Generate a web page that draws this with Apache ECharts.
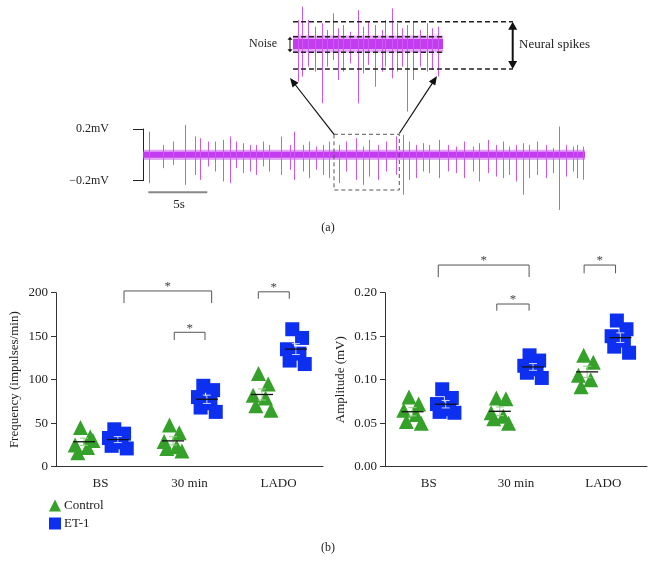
<!DOCTYPE html>
<html><head><meta charset="utf-8">
<script src="https://cdn.jsdelivr.net/npm/echarts@6/dist/echarts.min.js"></script>
<style>html,body{margin:0;padding:0;background:#fff}#c{width:656px;height:574px}</style>
</head><body><div id="c"></div>
<script>
// ---------------- data ----------------
const categories = ['BS', '30 min', 'LADO'];
const groupNames = ['Control', 'ET-1'];
// Frequency (impulses/min), one inner list per category
const freqControl = [[45, 34, 25, 22, 16, 30], [48, 39, 29, 23, 21, 18], [107, 95, 82, 79, 70, 65]];
const freqET1 = [[43, 38, 33, 28, 24, 21], [93, 88, 80, 73, 68, 63], [158, 148, 135, 130, 122, 118]];
// Amplitude (mV)
const ampControl = [[0.080, 0.072, 0.065, 0.060, 0.052, 0.050], [0.079, 0.078, 0.062, 0.058, 0.055, 0.050], [0.128, 0.120, 0.105, 0.100, 0.092]];
const ampET1 = [[0.089, 0.079, 0.072, 0.066, 0.063, 0.062], [0.128, 0.122, 0.116, 0.112, 0.108, 0.102], [0.168, 0.158, 0.150, 0.145, 0.138, 0.131]];
const freqTicks = [0, 50, 100, 150, 200];
const ampTicks = [0, 0.05, 0.10, 0.15, 0.20];
const traceScaleLabels = ['−0.2mV', '0.2mV'];
const traceScaleValues = [-0.2, 0.2];
// recording: [time s, spike max mV, spike min mV]
const traceSpikes = [
  [0.51, 0.18, -0.22], [1.69, 0.077, -0.103], [2.54, 0.103, -0.077], [3.53, 0.232, -0.232], [4.38, 0.142, -0.155],
  [4.80, 0.129, -0.193], [5.51, 0.103, -0.09], [6.07, 0.103, -0.129], [6.78, 0.116, -0.206], [7.34, 0.142, -0.219],
  [7.91, 0.103, -0.103], [8.47, 0.09, -0.142], [9.04, 0.077, -0.129], [9.60, 0.077, -0.155], [10.17, 0.103, -0.09],
  [10.73, 0.077, -0.129], [11.72, 0.142, -0.155], [12.43, 0.077, -0.116], [12.85, 0.18, -0.193], [13.56, 0.077, -0.129],
  [14.12, 0.103, -0.18], [14.69, 0.064, -0.116], [15.25, 0.077, -0.155], [15.82, 0.103, -0.18], [16.67, 0.077, -0.219],
  [17.23, 0.103, -0.129], [18.08, 0.129, -0.193], [18.64, 0.064, -0.232], [19.21, 0.116, -0.168], [19.92, 0.077, -0.193],
  [20.62, 0.103, -0.129], [21.47, 0.142, -0.155], [22.03, 0.155, -0.309], [22.60, 0.103, -0.193], [23.16, 0.077, -0.18],
  [23.73, 0.09, -0.129], [24.29, 0.077, -0.142], [25.14, 0.116, -0.18], [25.85, 0.077, -0.129], [26.55, 0.064, -0.142],
  [27.26, 0.103, -0.18], [27.97, 0.064, -0.129], [28.53, 0.09, -0.206], [29.24, 0.116, -0.142], [29.94, 0.077, -0.168],
  [30.51, 0.103, -0.18], [31.07, 0.064, -0.155], [31.64, 0.077, -0.206], [32.20, 0.09, -0.309], [32.77, 0.077, -0.18],
  [33.47, 0.103, -0.155], [34.18, 0.077, -0.18], [34.75, 0.052, -0.142], [35.31, 0.219, -0.426], [35.88, 0.077, -0.168],
  [36.44, 0.064, -0.129], [36.86, 0.077, -0.18], [37.29, 0.064, -0.193]
];
// enlarged window: [time s, spike max mV, spike min mV]
const insetSpikes = [
  [16.36, 0.111, -0.174], [16.48, 0.173, -0.151], [16.73, 0.111, -0.105], [16.97, 0.08, -0.128], [17.22, 0.096, -0.275],
  [17.40, 0.065, -0.105], [17.65, 0.142, -0.074], [17.83, 0.073, -0.167], [18.02, 0.088, -0.128], [18.27, 0.057, -0.09],
  [18.57, 0.157, -0.275], [18.76, 0.08, -0.136], [18.94, 0.103, -0.097], [19.19, 0.088, -0.198], [19.43, 0.065, -0.128],
  [19.56, 0.111, -0.105], [19.80, 0.165, -0.159], [19.99, 0.096, -0.128], [20.17, 0.073, -0.105], [20.36, 0.088, -0.313],
  [20.60, 0.103, -0.167], [20.85, 0.065, -0.105], [21.10, 0.096, -0.128], [21.28, 0.073, -0.12], [21.53, 0.08, -0.151]
];
const noiseLevel = 0.039;      // mV
const traceDuration = 37.5;    // s
const insetWindow = [16.16, 21.7]; // s

// ---------------- styles ----------------
const SERIF = '"Liberation Serif", "DejaVu Serif", serif';
const GREEN = '#36a12a';
const BLUE = '#0c2ff0';
const TRACE = '#c43cf0';
const SPIKE = '#cc58f2';
const AXIS = '#333';
const TXT = '#222';

const chart = echarts.init(document.getElementById('c'), null, { renderer: 'canvas' });

function jitter(i) { return (i % 2 ? 1 : -1) * (0.04 + 0.03 * (i % 3)); }
function points(groups, offset) {
  const out = [];
  groups.forEach((vals, ci) => vals.forEach((v, i) => out.push([ci + 0.5 + offset + jitter(i), v])));
  return out;
}
function stats(groups, offset) {
  return groups.map((vals, ci) => {
    const n = vals.length, m = vals.reduce((a, b) => a + b, 0) / n;
    const sd = Math.sqrt(vals.reduce((a, b) => a + (b - m) * (b - m), 0) / (n - 1));
    return [ci + 0.5 + offset, m, sd / Math.sqrt(n)];
  });
}
function statRender(semColor) {
  return function (params, api) {
    const x = api.value(0), m = api.value(1), s = api.value(2);
    const c = api.coord([x, m]), hi = api.coord([x, m + s]), lo = api.coord([x, m - s]);
    const st = { stroke: semColor, lineWidth: 1 };
    return { type: 'group', children: [
      { type: 'line', shape: { x1: c[0], y1: hi[1], x2: c[0], y2: lo[1] }, style: st },
      { type: 'line', shape: { x1: c[0] - 4, y1: hi[1], x2: c[0] + 4, y2: hi[1] }, style: st },
      { type: 'line', shape: { x1: c[0] - 4, y1: lo[1], x2: c[0] + 4, y2: lo[1] }, style: st },
      { type: 'line', shape: { x1: c[0] - 11, y1: c[1], x2: c[0] + 11, y2: c[1] }, style: { stroke: '#111', lineWidth: 1.3 } }
    ] };
  };
}
function bracketRender(params, api) {
  const x1 = api.value(0), x2 = api.value(1), top = api.value(2), t1 = api.value(3), t2 = api.value(4);
  const a = api.coord([x1, top]), b = api.coord([x2, top]);
  const at = api.coord([x1, t1]), bt = api.coord([x2, t2]);
  return { type: 'group', children: [
    { type: 'polyline', shape: { points: [[at[0], at[1]], [a[0], a[1]], [b[0], b[1]], [bt[0], bt[1]]] }, style: { stroke: '#555', lineWidth: 1, fill: null } },
    { type: 'text', x: (a[0] + b[0]) / 2, y: a[1] - 4, style: { text: '*', font: '13px ' + SERIF, fill: '#444', align: 'center', verticalAlign: 'middle' } }
  ] };
}
function spikeRender(params, api) {
  const p1 = api.coord([api.value(0), api.value(1)]);
  const p2 = api.coord([api.value(0), api.value(2)]);
  const x = Math.round(p1[0]) + 0.5;
  return { type: 'line', shape: { x1: x, y1: p1[1], x2: x, y2: p2[1] }, style: { stroke: SPIKE, lineWidth: 1 } };
}
function bandRender(params, api) {
  const a = api.coord([api.value(0), api.value(2)]);
  const b = api.coord([api.value(1), -api.value(2)]);
  const h = b[1] - a[1];
  return { type: 'group', children: [
    { type: 'rect', shape: { x: a[0], y: a[1], width: b[0] - a[0], height: h }, style: { fill: TRACE, opacity: 0.45 } },
    { type: 'rect', shape: { x: a[0], y: a[1] + h * 0.2, width: b[0] - a[0], height: h * 0.6 }, style: { fill: TRACE } }
  ] };
}

const catAxis = (gi) => ({
  type: 'category', gridIndex: gi, data: categories, boundaryGap: true,
  axisLine: { lineStyle: { color: AXIS, width: 1 } },
  axisTick: { alignWithLabel: true, length: 5, lineStyle: { color: AXIS } },
  axisLabel: { color: TXT, fontFamily: SERIF, fontSize: 13, margin: 10 }
});
const hiddenVal = (gi, min, max) => ({ type: 'value', gridIndex: gi, min: min, max: max, show: false });

const freqBrackets = [[0.764, 1.749, 202, 188, 188], [1.329, 1.674, 154.5, 145.6, 145.6], [2.273, 2.621, 201, 193, 193]];
const ampBrackets = [[0.61, 1.65, 0.2318, 0.218, 0.218], [1.28, 1.65, 0.187, 0.1793, 0.1793], [2.28, 2.64, 0.2318, 0.2223, 0.2223]];

const offC = -0.185, offE = 0.195;

// ---------------- annotations ----------------
function arrowHead(x1, y1, x2, y2, len, hw) {
  const dx = x2 - x1, dy = y2 - y1, L = Math.hypot(dx, dy), ux = dx / L, uy = dy / L;
  const bx = x2 - ux * len, by = y2 - uy * len;
  return { type: 'polygon', shape: { points: [[x2, y2], [bx - uy * hw, by + ux * hw], [bx + uy * hw, by - ux * hw]] }, style: { fill: '#111' } };
}
const dash = { stroke: '#222', lineWidth: 1.6, lineDash: [5, 3] };
const graphics = [
  { type: 'line', shape: { x1: 293, y1: 21.7, x2: 513, y2: 21.7 }, style: dash, z: 100 },
  { type: 'line', shape: { x1: 293, y1: 69, x2: 513, y2: 69 }, style: dash, z: 100 },
  { type: 'line', shape: { x1: 293, y1: 36.7, x2: 442, y2: 36.7 }, style: dash, z: 100 },
  { type: 'line', shape: { x1: 293, y1: 52.3, x2: 442, y2: 52.3 }, style: dash, z: 100 },
  { type: 'line', shape: { x1: 512.7, y1: 26, x2: 512.7, y2: 64.7 }, style: { stroke: '#111', lineWidth: 2 }, z: 100 },
  Object.assign(arrowHead(512.7, 40, 512.7, 21.7, 8, 4.5), { z: 100 }),
  Object.assign(arrowHead(512.7, 50, 512.7, 69, 8, 4.5), { z: 100 }),
  { type: 'line', shape: { x1: 290, y1: 38, x2: 290, y2: 51 }, style: { stroke: '#111', lineWidth: 1 }, z: 100 },
  Object.assign(arrowHead(290, 44, 290, 36.7, 3, 2.5), { z: 100 }),
  Object.assign(arrowHead(290, 45, 290, 52.3, 3, 2.5), { z: 100 }),
  { type: 'text', x: 277, y: 43.5, style: { text: 'Noise', font: '12px ' + SERIF, fill: TXT, align: 'right', verticalAlign: 'middle' }, z: 100 },
  { type: 'text', x: 519, y: 45, style: { text: 'Neural spikes', font: '13px ' + SERIF, fill: TXT, align: 'left', verticalAlign: 'middle' }, z: 100 },
  { type: 'rect', shape: { x: 334, y: 134.3, width: 65.3, height: 55.7 }, style: { stroke: '#555', lineWidth: 1, lineDash: [4, 3], fill: null }, z: 100 },
  { type: 'line', shape: { x1: 334, y1: 134.3, x2: 292, y2: 80.5 }, style: { stroke: '#111', lineWidth: 1.2 }, z: 100 },
  Object.assign(arrowHead(334, 134.3, 290, 78, 9, 3.8), { z: 100 }),
  { type: 'line', shape: { x1: 399.3, y1: 133.5, x2: 435.5, y2: 78.3 }, style: { stroke: '#111', lineWidth: 1.2 }, z: 100 },
  Object.assign(arrowHead(399.3, 133.5, 437, 76, 9, 3.8), { z: 100 }),
  { type: 'line', shape: { x1: 148.3, y1: 192.3, x2: 207.3, y2: 192.3 }, style: { stroke: '#888', lineWidth: 2 }, z: 100 },
  { type: 'text', x: 179, y: 205, style: { text: '5s', font: '13px ' + SERIF, fill: TXT, align: 'center', verticalAlign: 'middle' }, z: 100 },
  { type: 'text', x: 328, y: 228, style: { text: '(a)', font: '12px ' + SERIF, fill: TXT, align: 'center', verticalAlign: 'middle' }, z: 100 },
  { type: 'text', x: 328, y: 548, style: { text: '(b)', font: '12px ' + SERIF, fill: TXT, align: 'center', verticalAlign: 'middle' }, z: 100 }
];

const option = {
  backgroundColor: '#fff',
  animation: false,
  textStyle: { fontFamily: SERIF },
  grid: [
    { left: 143, right: 71, top: 129, bottom: 393.3 },
    { left: 293, right: 213, top: 0, bottom: 486 },
    { left: 56, right: 333, top: 292.7, bottom: 107.3 },
    { left: 385, right: 9, top: 292.7, bottom: 107.3 }
  ],
  xAxis: [
    hiddenVal(0, 0, traceDuration),
    hiddenVal(1, insetWindow[0], insetWindow[1]),
    catAxis(2), hiddenVal(2, 0, 3),
    catAxis(3), hiddenVal(3, 0, 3)
  ],
  yAxis: [
    { type: 'value', gridIndex: 0, min: traceScaleValues[0], max: traceScaleValues[1], interval: 0.4, offset: 19,
      axisLine: { show: true, lineStyle: { color: TXT } }, axisTick: { show: true, length: 10, lineStyle: { color: TXT } },
      splitLine: { show: false },
      axisLabel: { margin: 15, color: TXT, fontFamily: SERIF, fontSize: 12, formatter: v => traceScaleLabels[v > 0 ? 1 : 0] } },
    { type: 'value', gridIndex: 1, min: -0.204, max: 0.204, show: false },
    { type: 'value', gridIndex: 2, min: freqTicks[0], max: freqTicks[freqTicks.length - 1], interval: 50,
      name: 'Frequency (impulses/min)', nameLocation: 'middle', nameGap: 35,
      nameTextStyle: { color: TXT, fontFamily: SERIF, fontSize: 13 },
      axisLine: { show: true, lineStyle: { color: AXIS } }, axisTick: { show: true, length: 5, lineStyle: { color: AXIS } },
      splitLine: { show: false }, axisLabel: { color: TXT, fontFamily: SERIF, fontSize: 13, margin: 8 } },
    { type: 'value', gridIndex: 3, min: ampTicks[0], max: ampTicks[ampTicks.length - 1], interval: 0.05,
      name: 'Amplitude (mV)', nameLocation: 'middle', nameGap: 38,
      nameTextStyle: { color: TXT, fontFamily: SERIF, fontSize: 13 },
      axisLine: { show: true, lineStyle: { color: AXIS } }, axisTick: { show: true, length: 5, lineStyle: { color: AXIS } },
      splitLine: { show: false }, axisLabel: { color: TXT, fontFamily: SERIF, fontSize: 13, margin: 8, formatter: v => v.toFixed(2) } }
  ],
  legend: {
    orient: 'vertical', left: 44, top: 494, itemWidth: 12, itemHeight: 12, itemGap: 5,
    textStyle: { color: TXT, fontFamily: SERIF, fontSize: 13, padding: [0, 0, 0, -2] },
    data: [{ name: groupNames[0], icon: 'triangle' }, { name: groupNames[1], icon: 'rect' }]
  },
  graphic: graphics,
  series: [
    { type: 'custom', xAxisIndex: 0, yAxisIndex: 0, renderItem: bandRender, data: [[0, traceDuration, noiseLevel]], silent: true, z: 2 },
    { type: 'custom', xAxisIndex: 0, yAxisIndex: 0, renderItem: spikeRender, data: traceSpikes, silent: true, clip: false, z: 3 },
    { type: 'custom', xAxisIndex: 1, yAxisIndex: 1, renderItem: bandRender, data: [[insetWindow[0], insetWindow[1], noiseLevel]], silent: true, z: 2 },
    { type: 'custom', xAxisIndex: 1, yAxisIndex: 1, renderItem: spikeRender, data: insetSpikes, silent: true, clip: false, z: 3 },

    { name: groupNames[0], type: 'scatter', xAxisIndex: 3, yAxisIndex: 2, symbol: 'triangle', symbolSize: 15, itemStyle: { color: GREEN, opacity: 1 }, data: points(freqControl, offC), z: 3 },
    { name: groupNames[1], type: 'scatter', xAxisIndex: 3, yAxisIndex: 2, symbol: 'rect', symbolSize: 14, itemStyle: { color: BLUE, opacity: 1 }, data: points(freqET1, offE), z: 3 },
    { type: 'custom', xAxisIndex: 3, yAxisIndex: 2, renderItem: statRender('#8fd07e'), data: stats(freqControl, offC), z: 5, silent: true },
    { type: 'custom', xAxisIndex: 3, yAxisIndex: 2, renderItem: statRender('#c9d2ff'), data: stats(freqET1, offE), z: 5, silent: true },
    { type: 'custom', xAxisIndex: 3, yAxisIndex: 2, renderItem: bracketRender, data: freqBrackets, clip: false, z: 5, silent: true },

    { name: groupNames[0], type: 'scatter', xAxisIndex: 5, yAxisIndex: 3, symbol: 'triangle', symbolSize: 15, itemStyle: { color: GREEN, opacity: 1 }, data: points(ampControl, offC), z: 3 },
    { name: groupNames[1], type: 'scatter', xAxisIndex: 5, yAxisIndex: 3, symbol: 'rect', symbolSize: 14, itemStyle: { color: BLUE, opacity: 1 }, data: points(ampET1, offE), z: 3 },
    { type: 'custom', xAxisIndex: 5, yAxisIndex: 3, renderItem: statRender('#8fd07e'), data: stats(ampControl, offC), z: 5, silent: true },
    { type: 'custom', xAxisIndex: 5, yAxisIndex: 3, renderItem: statRender('#c9d2ff'), data: stats(ampET1, offE), z: 5, silent: true },
    { type: 'custom', xAxisIndex: 5, yAxisIndex: 3, renderItem: bracketRender, data: ampBrackets, clip: false, z: 5, silent: true }
  ]
};
chart.setOption(option);
</script>
</body></html>
